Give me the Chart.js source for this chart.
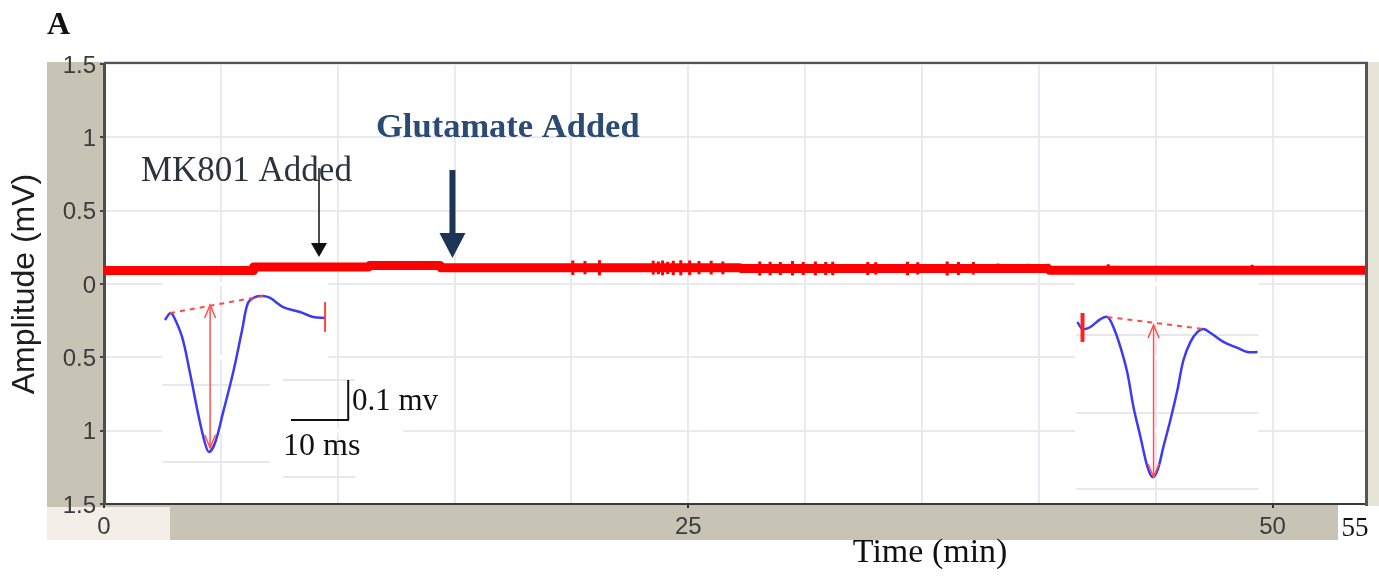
<!DOCTYPE html>
<html lang="en">
  <head>
    <meta charset="UTF-8" />
    <title>Amplitude recording</title>
    <script src="https://cdn.jsdelivr.net/npm/chart.js@4.4.1/dist/chart.umd.min.js"></script>
    <style>
      html, body { margin: 0; padding: 0; background: #fff; }
      #wrap { width: 1379px; height: 577px; }
    </style>
  </head>
  <body>
    <div id="wrap">
      <canvas id="chart-amp" width="1379" height="577"></canvas>
    </div>

<script>
  // axis ticks
  const yTickValues = [-1.5, -1, -0.5, 0, 0.5, 1, 1.5];
  const yTickLabels = ["1.5", "1", "0.5", "0", "0.5", "1", "1.5"];
  const xGridValues = [0, 5, 10, 15, 20, 25, 30, 35, 40, 45, 50];
  const xTickValues = [0, 25, 50];
  const xTickLabels = ["0", "25", "50"];
  const xEdgeLabel = "55";

  // red amplitude trace, time (min) / amplitude (mV)
  const traceTime = [0, 6.38, 6.40, 11.32, 11.36, 14.38, 14.42, 27.20, 27.30, 40.40, 40.45, 54.00];
  const traceAmp = [0.092, 0.092, 0.116, 0.116, 0.126, 0.126, 0.110, 0.110, 0.105, 0.105, 0.094, 0.094];

  // short noise excursions on the trace
  const noiseTime = [11.34, 20.06, 20.58, 21.20, 23.50, 23.72, 23.90, 24.12, 24.36, 24.68, 25.06, 25.46,
    25.98, 26.48, 28.06, 28.50, 28.94, 29.46, 29.92, 30.44, 30.88, 31.18, 32.68, 33.02, 34.38, 34.82,
    36.08, 36.56, 37.20, 38.25, 39.55, 40.40, 42.97, 49.13];
  const noiseHigh = [0.150, 0.160, 0.156, 0.162, 0.158, 0.154, 0.160, 0.152, 0.158, 0.162, 0.160, 0.156,
    0.158, 0.154, 0.154, 0.152, 0.150, 0.156, 0.150, 0.154, 0.150, 0.152, 0.150, 0.148, 0.152, 0.148,
    0.154, 0.150, 0.150, 0.140, 0.138, 0.138, 0.134, 0.132];
  const noiseLow = [0.092, 0.062, 0.066, 0.060, 0.064, 0.066, 0.060, 0.068, 0.062, 0.060, 0.062, 0.066,
    0.064, 0.066, 0.058, 0.060, 0.062, 0.058, 0.062, 0.060, 0.062, 0.060, 0.062, 0.064, 0.060, 0.064,
    0.058, 0.062, 0.064, 0.076, 0.078, 0.074, 0.072, 0.074];

  // inset waveform before MK801 (blue)
  const insetLeftTime = [2.61, 2.83, 2.95, 3.34, 3.68, 4.02, 4.32, 4.49, 4.75, 5.09,
    5.52, 5.91, 6.16, 6.46, 6.81, 7.11, 7.66, 8.39, 8.95, 9.46];
  const insetLeftAmp = [-0.245, -0.198, -0.211, -0.361, -0.607, -0.879, -1.084, -1.145, -1.084, -0.879,
    -0.607, -0.314, -0.130, -0.089, -0.082, -0.095, -0.157, -0.191, -0.225, -0.232];

  // inset waveform after glutamate (blue)
  const insetRightTime = [41.65, 41.87, 42.21, 42.64, 42.94, 43.19, 43.49, 43.79, 44.05, 44.35,
    44.65, 44.86, 45.08, 45.33, 45.63, 45.93, 46.19, 46.49, 46.79, 47.05,
    47.35, 47.90, 48.50, 48.93, 49.36];
  const insetRightAmp = [-0.259, -0.307, -0.293, -0.239, -0.225, -0.293, -0.429, -0.607, -0.838, -1.043,
    -1.247, -1.316, -1.268, -1.111, -0.927, -0.723, -0.518, -0.395, -0.327, -0.307,
    -0.334, -0.395, -0.436, -0.464, -0.464];

  // amplitude measurement on each inset: baseline (dashed) and peak arrow
  const baseLeftTime = [2.83, 6.81];
  const baseLeftAmp = [-0.198, -0.082];
  const baseRightTime = [42.94, 47.05];
  const baseRightAmp = [-0.225, -0.307];
  const peakTime = [4.54, 44.91];
  const peakLow = [-1.117, -1.316];
  const peakHigh = [-0.143, -0.279];
  const stimTime = [9.46, 41.87];
  const stimLow = [-0.327, -0.395];
  const stimHigh = [-0.123, -0.198];

  // scale bar (10 ms / 0.1 mv)
  const scaleBarTime = [8.0, 10.45, 10.45];
  const scaleBarAmp = [-0.927, -0.927, -0.654];

  // drug application markers
  const markerLabels = ["MK801 Added", "Glutamate Added"];
  const markerTime = [9.2, 14.91];
  const markerTop = [0.791, 0.777];
  const markerTip = [0.184, 0.177];

  const serif = '"Liberation Serif", "Times New Roman", serif';
  const sans = '"Liberation Sans", Arial, sans-serif';

  function pts(xs, ys) {
    return xs.map((x, i) => ({ x: x, y: ys[i] }));
  }

  function line(label, data, color, width, dash, tension) {
    return {
      label: label,
      data: data,
      borderColor: color,
      borderWidth: width,
      borderDash: dash || [],
      pointRadius: 0,
      tension: tension || 0,
      borderJoinStyle: "round",
      spanGaps: false,
    };
  }

  // each excursion is a vertical stroke, separated by gaps
  const noisePoints = [];
  noiseTime.forEach((t, i) => {
    noisePoints.push({ x: t, y: noiseLow[i] }, { x: t, y: noiseHigh[i] }, { x: t, y: null });
  });

  function head(ctx, x, y, w, h, dir, filled) {
    // dir 1 = pointing down, -1 = pointing up
    ctx.beginPath();
    ctx.moveTo(x - w / 2, y - dir * h);
    ctx.lineTo(x, y);
    ctx.lineTo(x + w / 2, y - dir * h);
    if (filled) {
      ctx.closePath();
      ctx.fill();
    } else {
      ctx.stroke();
    }
  }

  const decor = {
    id: "decor",
    beforeDraw(chart) {
      const c = chart.ctx;
      const a = chart.chartArea;
      c.save();
      c.fillStyle = "#c7c3b5";
      c.fillRect(47, a.top - 2, a.left - 47, a.bottom - a.top + 3);
      c.fillRect(47, a.bottom + 1, 1338 - 47, 540 - a.bottom - 1);
      c.fillStyle = "#f4eee8";
      c.fillRect(47, a.bottom + 3, 170 - 47, 540 - a.bottom - 3);
      c.fillStyle = "#e6e3d7";
      c.fillRect(a.right + 2, a.top - 2, 1379 - a.right - 2, 448);
      c.fillStyle = "#d9d5c7";
      c.fillRect(a.left, a.top - 3, a.right - a.left + 2, 1);
      c.restore();
    },
    beforeDatasetsDraw(chart) {
      const c = chart.ctx;
      const x = chart.scales.x;
      const y = chart.scales.y;
      c.save();
      // the inset pictures hide parts of the grid
      c.strokeStyle = "#ffffff";
      c.lineWidth = 4;
      [[0, 2.5, 9.6], [-0.5, 2.5, 9.6], [-1, 2.5, 12.8],
       [0, 41.55, 49.4], [-0.5, 41.55, 49.4], [-1, 41.55, 49.4]].forEach(s => {
        c.beginPath();
        c.moveTo(x.getPixelForValue(s[1]), y.getPixelForValue(s[0]));
        c.lineTo(x.getPixelForValue(s[2]), y.getPixelForValue(s[0]));
        c.stroke();
      });
      // faint lines belonging to the inset pictures
      c.strokeStyle = "#e8e7ec";
      c.lineWidth = 2;
      [[-0.688, 2.5, 7.1], [-1.213, 2.5, 7.1], [-0.654, 7.66, 10.75], [-1.316, 7.66, 10.75],
       [-0.348, 41.6, 49.4], [-0.879, 41.6, 49.4], [-1.397, 41.6, 49.4]].forEach(s => {
        c.beginPath();
        c.moveTo(x.getPixelForValue(s[1]), y.getPixelForValue(s[0]));
        c.lineTo(x.getPixelForValue(s[2]), y.getPixelForValue(s[0]));
        c.stroke();
      });
      c.restore();
    },
    afterDatasetsDraw(chart) {
      const c = chart.ctx;
      const x = chart.scales.x;
      const y = chart.scales.y;
      c.save();

      // peak arrows in the insets (double headed)
      c.strokeStyle = "#ff5050";
      c.lineWidth = 1.5;
      peakTime.forEach((t, i) => {
        const px = x.getPixelForValue(t);
        head(c, px, y.getPixelForValue(peakHigh[i]), 11, 13, -1, false);
        head(c, px, y.getPixelForValue(peakLow[i]), 11, 13, 1, false);
      });

      // drug markers
      const styles = [
        { color: "#111111", width: 1.5, hw: 16, hh: 14 },
        { color: "#1c3556", width: 6, hw: 26, hh: 25 },
      ];
      markerTime.forEach((t, i) => {
        const s = styles[i];
        const px = x.getPixelForValue(t);
        const top = y.getPixelForValue(markerTop[i]);
        const tip = y.getPixelForValue(markerTip[i]);
        c.strokeStyle = s.color;
        c.fillStyle = s.color;
        c.lineWidth = s.width;
        c.beginPath();
        c.moveTo(px, top);
        c.lineTo(px, tip - s.hh + 2);
        c.stroke();
        head(c, px, tip, s.hw, s.hh, 1, true);
      });

      c.textBaseline = "alphabetic";
      c.textAlign = "left";
      c.font = "35px " + serif;
      c.fillStyle = "#2d333c";
      c.fillText(markerLabels[0], x.getPixelForValue(1.58), y.getPixelForValue(0.702));
      c.font = "bold 34.5px " + serif;
      c.fillStyle = "#2b4a74";
      c.fillText(markerLabels[1], x.getPixelForValue(11.64), y.getPixelForValue(1.002));

      // scale bar labels
      c.fillStyle = "#111111";
      c.textBaseline = "middle";
      c.font = "31px " + serif;
      c.fillText("0.1 mv", x.getPixelForValue(10.61), y.getPixelForValue(-0.804));
      c.font = "32px " + serif;
      c.fillText("10 ms", x.getPixelForValue(7.66), y.getPixelForValue(-1.111));
      c.restore();
    },
    afterDraw(chart) {
      const c = chart.ctx;
      const a = chart.chartArea;
      c.save();
      // plot frame
      c.fillStyle = "#555555";
      c.fillRect(a.left, a.top - 2, a.right - a.left + 2, 2);
      c.fillRect(a.right - 1, a.top - 2, 3, 448);
      // end label in its own box
      c.fillStyle = "#ffffff";
      c.fillRect(1338, a.bottom + 2, 41, 540 - a.bottom - 2);
      c.fillStyle = "#111111";
      c.font = "27px " + serif;
      c.textAlign = "center";
      c.textBaseline = "middle";
      c.fillText(xEdgeLabel, a.right - 11, 529);
      // axis title
      c.font = "34px " + serif;
      c.fillText("Time (min)", chart.scales.x.getPixelForValue(35.35), 553);
      // panel letter
      c.font = "bold 32px " + serif;
      c.textAlign = "left";
      c.textBaseline = "alphabetic";
      c.fillText("A", 47, 34);
      c.restore();
    },
  };

  const ctx = document.getElementById("chart-amp").getContext("2d");

  const chart = new Chart(ctx, {
    type: "line",
    data: {
      datasets: [
        line("Stimulus (before)", pts([stimTime[0], stimTime[0]], [stimLow[0], stimHigh[0]]), "#ff4040", 2),
        line("Stimulus (after)", pts([stimTime[1], stimTime[1]], [stimLow[1], stimHigh[1]]), "#ff2020", 4),
        line("Peak (before)", pts([peakTime[0], peakTime[0]], [peakLow[0], peakHigh[0]]), "#ff5050", 1.5),
        line("Peak (after)", pts([peakTime[1], peakTime[1]], [peakLow[1], peakHigh[1]]), "#ff5050", 1.5),
        line("Baseline (before)", pts(baseLeftTime, baseLeftAmp), "#ff4a4a", 2, [5, 5]),
        line("Baseline (after)", pts(baseRightTime, baseRightAmp), "#ff4a4a", 2, [5, 5]),
        line("Before", pts(insetLeftTime, insetLeftAmp), "#3b3bf2", 2.5, null, 0.35),
        line("After", pts(insetRightTime, insetRightAmp), "#3b3bf2", 2.5, null, 0.35),
        line("Scale bar", pts(scaleBarTime, scaleBarAmp), "#111111", 2),
        line("Noise", noisePoints, "#ff0000", 3),
        line("Amplitude", pts(traceTime, traceAmp), "#ff0000", 9),
      ],
    },
    options: {
      responsive: false,
      animation: false,
      devicePixelRatio: 1,
      layout: { padding: { left: 0, top: 64, right: 13, bottom: 0 } },
      plugins: {
        legend: { display: false },
        tooltip: { enabled: false },
      },
      scales: {
        x: {
          type: "linear",
          min: 0,
          max: 54,
          afterBuildTicks: (s) => { s.ticks = xGridValues.map((v) => ({ value: v })); },
          afterFit: (s) => { s.height = 73; },
          ticks: {
            autoSkip: false,
            maxRotation: 0,
            padding: 5,
            color: "#3c3c3c",
            font: { family: sans, size: 24 },
            callback: (v) => {
              const i = xTickValues.indexOf(v);
              return i < 0 ? "" : xTickLabels[i];
            },
          },
          grid: {
            color: "#ebe8f0",
            lineWidth: 2,
            tickLength: 4,
            tickWidth: 2,
            tickColor: (c) => (c.tick && xTickValues.includes(c.tick.value) ? "#333333" : "rgba(0,0,0,0)"),
          },
          border: { display: true, color: "#3a3a3a", width: 2 },
        },
        y: {
          type: "linear",
          min: -1.5,
          max: 1.5,
          afterBuildTicks: (s) => { s.ticks = yTickValues.map((v) => ({ value: v })); },
          afterFit: (s) => { s.width = 104; },
          ticks: {
            padding: 4,
            labelOffset: 2,
            color: "#3c3c3c",
            font: { family: sans, size: 24 },
            callback: (v) => yTickLabels[yTickValues.indexOf(v)],
          },
          grid: {
            color: "#ebe8f0",
            lineWidth: 2,
            tickLength: 4,
            tickWidth: 2,
            tickColor: "#444444",
          },
          border: { display: true, color: "#4d4d4d", width: 3 },
          title: {
            display: true,
            text: "Amplitude (mV)",
            color: "#1e1e1e",
            font: { family: sans, size: 32 },
            padding: { top: 6, bottom: 0 },
          },
        },
      },
    },
    plugins: [decor],
  });
</script>
  </body>
</html>
